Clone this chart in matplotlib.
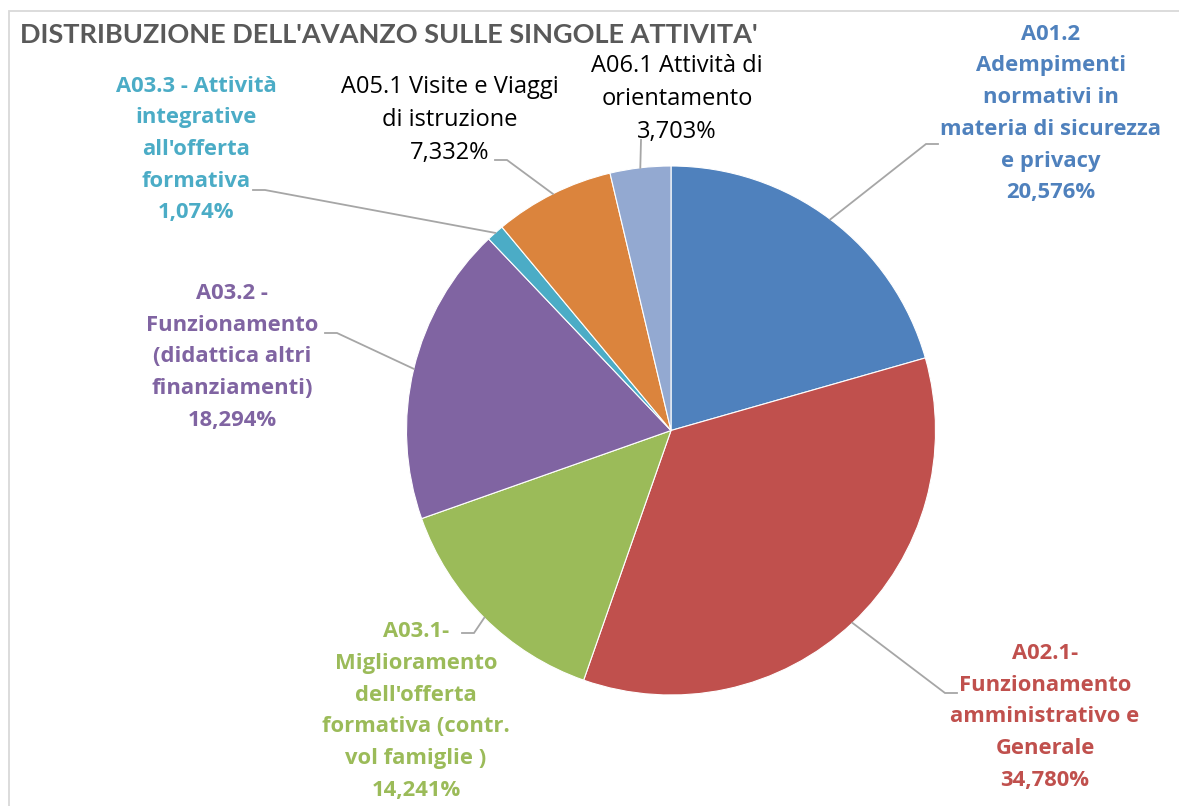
import matplotlib
matplotlib.use("Agg")
import matplotlib.pyplot as plt
import numpy as np
from matplotlib.patches import Rectangle

W, H = 1179, 806

labels = [
    "A01.2\nAdempimenti\nnormativi in\nmateria di sicurezza\ne privacy",
    "A02.1-\nFunzionamento\namministrativo e\nGenerale",
    "A03.1-\nMiglioramento\ndell'offerta\nformativa (contr.\nvol famiglie )",
    "A03.2 -\nFunzionamento\n(didattica altri\nfinanziamenti)",
    "A03.3 - Attività\nintegrative\nall'offerta\nformativa",
    "A05.1 Visite e Viaggi\ndi istruzione",
    "A06.1 Attività di\norientamento",
]
values = [20.576, 34.780, 14.241, 18.294, 1.074, 7.332, 3.703]
colors = ["#4F81BD", "#C0504D", "#9BBB59", "#8064A2", "#4BACC6", "#DB843D", "#93A9D1"]
label_colors = ["#4F81BD", "#C0504D", "#9BBB59", "#8064A2", "#4BACC6", "#000000", "#000000"]
label_bold = [True, True, True, True, True, False, False]
title = "DISTRIBUZIONE DELL'AVANZO SULLE SINGOLE ATTIVITA'"

# layout (image pixel coords, y downward)
cx, cy, R = 671, 430.5, 264.5
label_pos = [(1051, 113.5), (1045, 717), (416, 711), (232, 357), (196, 149.5), (450, 120), (677, 99)]
elbows = [((926, 144), (938, 144)), ((945, 693), (957, 693)), ((474, 633), (462, 633)),
          ((337, 333), (325, 333)), ((265, 190), (253, 190)), ((507, 160), (495, 160)),
          ((641, 140), (641, 140))]

plt.rcParams['font.family'] = ['Open Sans', 'DejaVu Sans']

fig = plt.figure(figsize=(W / 100, H / 100), dpi=100)
ax = fig.add_axes([0, 0, 1, 1])

def Y(y):
    return H - y

ax.pie(values, colors=colors, startangle=90, counterclock=False,
       center=(cx, Y(cy)), radius=R, frame=True,
       wedgeprops=dict(edgecolor="white", linewidth=0.8))
ax.set_xlim(0, W)
ax.set_ylim(0, H)
ax.set_aspect('equal')
ax.axis('off')

# border
ax.add_patch(Rectangle((8.5, Y(1200)), 1300, Y(10.5) - Y(1200), fill=False,
                       edgecolor="#D9D9D9", linewidth=1.3, zorder=0))

# leader lines + labels
cum = 0.0
total = sum(values)
for i, v in enumerate(values):
    mid = (cum + v / 2) / total
    cum += v
    theta = np.deg2rad(90 - 360 * mid)
    sx, sy = cx + R * np.cos(theta), cy - R * np.sin(theta)
    (ex, ey), (hx, hy) = elbows[i]
    ax.plot([sx, ex, hx], [Y(sy), Y(ey), Y(hy)], color="#A6A6A6", lw=1.3,
            solid_joinstyle='miter', zorder=3)
    pct = f"{v:.3f}".replace(".", ",") + "%"
    lx, ly = label_pos[i]
    if label_bold[i]:
        fs, ls, fw = 15.8, 1.67, "bold"
    else:
        fs, ls, fw = 17, 1.49, "normal"
    ax.text(lx, Y(ly), labels[i] + "\n" + pct, ha="center", va="center",
            multialignment="center", fontsize=fs, linespacing=ls,
            color=label_colors[i], fontweight=fw, zorder=4)

ax.text(20, Y(35), title, ha="left", va="center", fontsize=19.5,
        fontweight="bold", color="#595959", family=['Lato', 'DejaVu Sans'])

fig.savefig("out.png", dpi=100)
